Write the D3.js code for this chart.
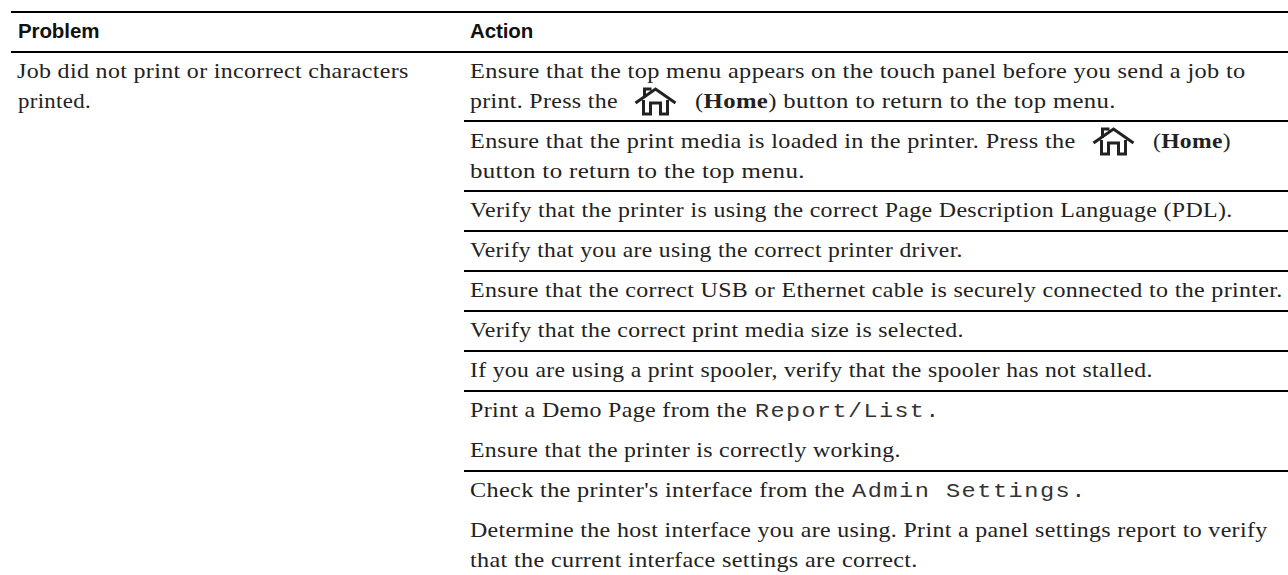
<!DOCTYPE html>
<html><head><meta charset="utf-8">
<script src="https://cdn.jsdelivr.net/npm/d3@7"></script>
<style>html,body{margin:0;padding:0;background:#fff;overflow:hidden}svg{display:block}</style>
</head><body><div id="c"></div>
<script>
const headers = ["Problem", "Action"];
const problemLines = ["Job did not print or incorrect characters", "printed."];
const homeLabel = "Home";
// Each printed line is a list of segments; "icon" stands for the Home glyph. A segment is a list of [style, text] runs.
const actionLines = [
 [[["r","Ensure that the top menu appears on the touch panel before you send a job to"]]],
 [[["r","print. Press the"]],"icon",[["r","("],["b",homeLabel],["r",") button to return to the top menu."]]],
 [[["r","Ensure that the print media is loaded in the printer. Press the"]],"icon",[["r","("],["b",homeLabel],["r",")"]]],
 [[["r","button to return to the top menu."]]],
 [[["r","Verify that the printer is using the correct Page Description Language (PDL)."]]],
 [[["r","Verify that you are using the correct printer driver."]]],
 [[["r","Ensure that the correct USB or Ethernet cable is securely connected to the printer."]]],
 [[["r","Verify that the correct print media size is selected."]]],
 [[["r","If you are using a print spooler, verify that the spooler has not stalled."]]],
 [[["r","Print a Demo Page from the"]],[["m","Report/List."]]],
 [[["r","Ensure that the printer is correctly working."]]],
 [[["r","Check the printer's interface from the"]],[["m","Admin Settings."]]],
 [[["r","Determine the host interface you are using. Print a panel settings report to verify"]]],
 [[["r","that the current interface settings are correct."]]]
];
// Layout only
const W=1288,H=575,ruleL=464,headRuleL=11;
const headX=[18,470], headY=38;
const problemSpans=[[17,409],[18,91]], problemY=[78,108];
const baselines=[78,108,148,178,217,257,297,337,377,417,457,497,537,567];
const actionSpans=[
 [[470,1246]],[[470,618],[695,1116]],[[470,1076],[1153,1231]],[[470,805]],[[470,1233]],[[470,963]],[[470,1283]],
 [[470,964]],[[470,1153]],[[470,747],[755,941]],[[470,901]],[[470,845],[852,1087]],[[470,1268]],[[470,918]]
];
const topRules=[12,52], ruleYs=[121,191,231,271,311,351,391,471];
const serif='"Liberation Serif","DejaVu Serif",serif', mono='"Liberation Mono",monospace';
const FS=21, LS=0.3, MLS=1.3, INK="#222";

const svg=d3.select("#c").append("svg").attr("width",W).attr("height",H);
const rules=[...topRules.map(y=>[headRuleL,y]),...ruleYs.map(y=>[ruleL,y])];
svg.append("g").selectAll("line").data(rules).join("line")
  .attr("x1",d=>d[0]).attr("x2",W).attr("y1",d=>d[1]).attr("y2",d=>d[1]).attr("stroke","#000").attr("stroke-width",2);
svg.append("g").selectAll("text").data(headers).join("text")
  .attr("x",(d,i)=>headX[i]).attr("y",headY)
  .attr("font-family",'"Liberation Sans",sans-serif').attr("font-weight",700).attr("font-size",20.5)
  .attr("letter-spacing",-0.1).attr("fill","#111").text(d=>d);

// Draw one text segment, horizontally fitted between x0 and x1.
function fit(parent,runs,x0,x1,y){
  const t=parent.append("text").attr("font-size",FS).attr("fill",INK).style("white-space","pre");
  runs.forEach(([s,str])=>{
    t.append("tspan").text(str)
     .attr("font-family",s==="m"?mono:serif)
     .attr("font-weight",s==="b"?700:400)
     .attr("letter-spacing",s==="m"?MLS:LS)
     .attr("fill",s==="m"?"#333":INK);
  });
  const w=t.node().getComputedTextLength();
  t.attr("transform",`translate(${x0},${y}) scale(${(x1-x0)/w},1)`);
}
function house(g,cx,y){
  g.append("path").attr("transform",`translate(${cx},${y})`).attr("fill","none").attr("stroke",INK)
   .attr("stroke-width",3).attr("stroke-linejoin","miter")
   .attr("d","M-20,-5 L0,-19 L20,-5 M-12,-8 V6 H-5 V-5 H5 V6 H12 V-8 M-11,-10 V-19 H-4");
}
const prob=svg.append("g");
problemLines.forEach((l,i)=>fit(prob,[["r",l]],problemSpans[i][0],problemSpans[i][1],problemY[i]));
const act=svg.append("g");
actionLines.forEach((segs,i)=>{
  const y=baselines[i], spans=actionSpans[i]; let n=0;
  segs.forEach(s=>{
    if(s==="icon"){ house(act,(spans[n-1][1]+spans[n][0])/2-1,y); return; }
    fit(act,s,spans[n][0],spans[n][1],y); n++;
  });
});
</script></body></html>
